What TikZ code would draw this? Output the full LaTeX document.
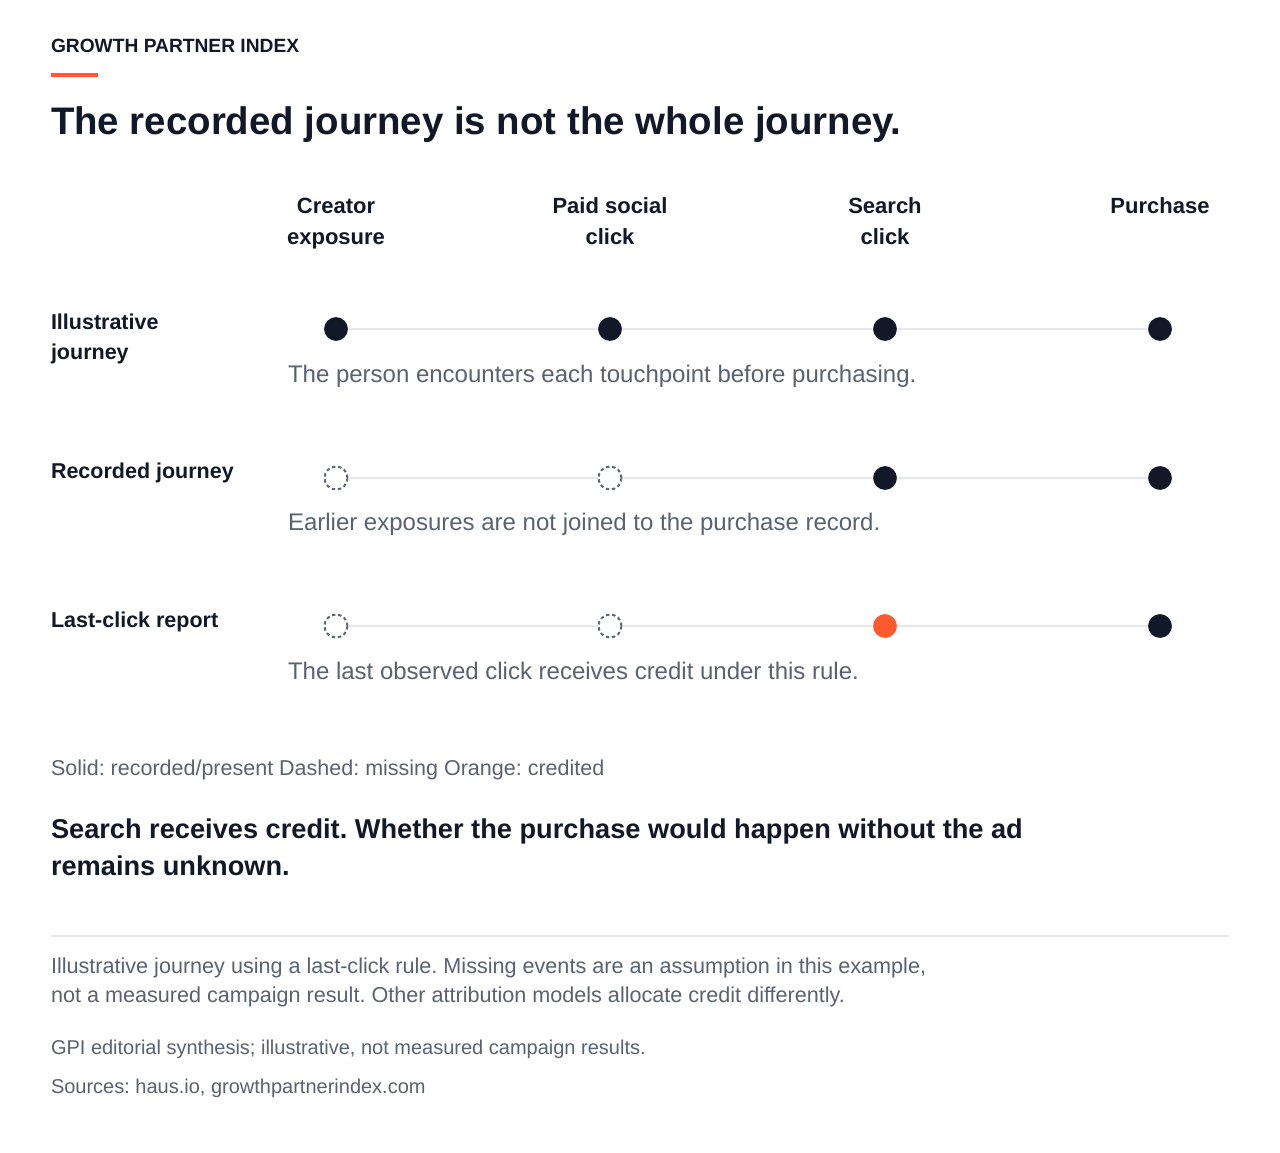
\documentclass[tikz,border=0pt]{standalone}
\usepackage{fontspec}
\setmainfont{Liberation Sans}
\frenchspacing
\definecolor{ink}{HTML}{111827}
\definecolor{accent}{HTML}{FF5A2E}
\definecolor{muted}{HTML}{5A6272}
\definecolor{trackgray}{HTML}{E5E7EB}
\definecolor{dashgray}{HTML}{5F6675}
\begin{document}
\begin{tikzpicture}[x=1pt,y=-1pt,
  txt/.style={inner sep=0pt, outer sep=0pt},
  kicker/.style={txt, anchor=base west, text=ink, font=\fontsize{19.2}{23}\selectfont\bfseries},
  titletext/.style={txt, anchor=base west, text=ink, font=\fontsize{38.4}{46}\selectfont\bfseries},
  hdr/.style={txt, anchor=base, align=center, text=ink, font=\fontsize{22}{30.5}\selectfont\bfseries},
  rowlbl/.style={txt, anchor=base west, align=left, text=ink, font=\fontsize{21.5}{29.5}\selectfont\bfseries},
  desc/.style={txt, anchor=base west, text=muted, font=\fontsize{24}{28}\selectfont},
  legendtext/.style={txt, anchor=base west, text=muted, font=\fontsize{21.5}{26}\selectfont},
  concl/.style={txt, anchor=base west, align=left, text=ink, font=\fontsize{27.2}{37}\selectfont\bfseries},
  foot/.style={txt, anchor=base west, align=left, text=muted, font=\fontsize{21.6}{29.5}\selectfont},
  src/.style={txt, anchor=base west, text=muted, font=\fontsize{20}{24}\selectfont},
  solid dot/.style={circle, fill=ink, draw=white, line width=1pt, minimum size=25pt, inner sep=0pt},
  credit dot/.style={circle, fill=accent, draw=white, line width=1pt, minimum size=25pt, inner sep=0pt},
  missing dot/.style={circle, fill=white, draw=dashgray, line width=2pt, dash pattern=on 3.4pt off 2.8pt, minimum size=23pt, inner sep=0pt},
  track/.style={draw=trackgray, line width=2.5pt}
]
\useasboundingbox[fill=white] (0,0) rectangle (1280,1152);

% header
\node[kicker] (kick) at (51,52) {GROWTH PARTNER INDEX};
\fill[accent] (51,72.5) rectangle (97.5,77) coordinate (bar);
\node[titletext] (title) at (51,134) {The recorded journey is not the whole journey.};

% column headers (base anchor = last line)
\node[hdr] (h1) at (336,244) {Creator\\exposure};
\node[hdr] (h2) at (610,244) {Paid social\\click};
\node[hdr] (h3) at (885,244) {Search\\click};
\node[hdr] (h4) at (1160,213.5) {Purchase};

% row labels
\node[rowlbl] (r1) at (51,359) {Illustrative\\journey};
\node[rowlbl] (r2) at (51,478) {Recorded journey};
\node[rowlbl] (r3) at (51,627) {Last-click report};

% row 1
\node[solid dot] (a1) at (336,329) {};
\node[solid dot] (a2) at (610,329) {};
\node[solid dot] (a3) at (885,329) {};
\node[solid dot] (a4) at (1160,329) {};
\draw[track] (a1) -- (a2);
\draw[track] (a2) -- (a3);
\draw[track] (a3) -- (a4);
\node[desc] (d1) at (288,382) {The person encounters each touchpoint before purchasing.};

% row 2
\node[missing dot] (b1) at (336,478) {};
\node[missing dot] (b2) at (610,478) {};
\node[solid dot] (b3) at (885,478) {};
\node[solid dot] (b4) at (1160,478) {};
\draw[track] (b1) -- (b2);
\draw[track] (b2) -- (b3);
\draw[track] (b3) -- (b4);
\node[desc] (d2) at (288,530.5) {Earlier exposures are not joined to the purchase record.};

% row 3
\node[missing dot] (c1) at (336,626) {};
\node[missing dot] (c2) at (610,626) {};
\node[credit dot] (c3) at (885,626) {};
\node[solid dot] (c4) at (1160,626) {};
\draw[track] (c1) -- (c2);
\draw[track] (c2) -- (c3);
\draw[track] (c3) -- (c4);
\node[desc] (d3) at (288,679) {The last observed click receives credit under this rule.};

% legend
\node[legendtext] (leg) at (51,775) {Solid: recorded/present Dashed: missing Orange: credited};

% conclusion
\node[concl] (con) at (51,875.5) {Search receives credit. Whether the purchase would happen without the ad\\remains unknown.};

% separator
\coordinate (sepL) at (51,936);
\coordinate (sepR) at (1229,936);
\draw[draw=trackgray, line width=2pt] (sepL) -- (sepR);

% footnotes
\node[foot] (fn) at (51,1002.5) {Illustrative journey using a last-click rule. Missing events are an assumption in this example,\\not a measured campaign result. Other attribution models allocate credit differently.};
\node[src] (s1) at (51,1054) {GPI editorial synthesis; illustrative, not measured campaign results.};
\node[src] (s2) at (51,1093) {Sources: haus.io, growthpartnerindex.com};
\end{tikzpicture}
\end{document}
